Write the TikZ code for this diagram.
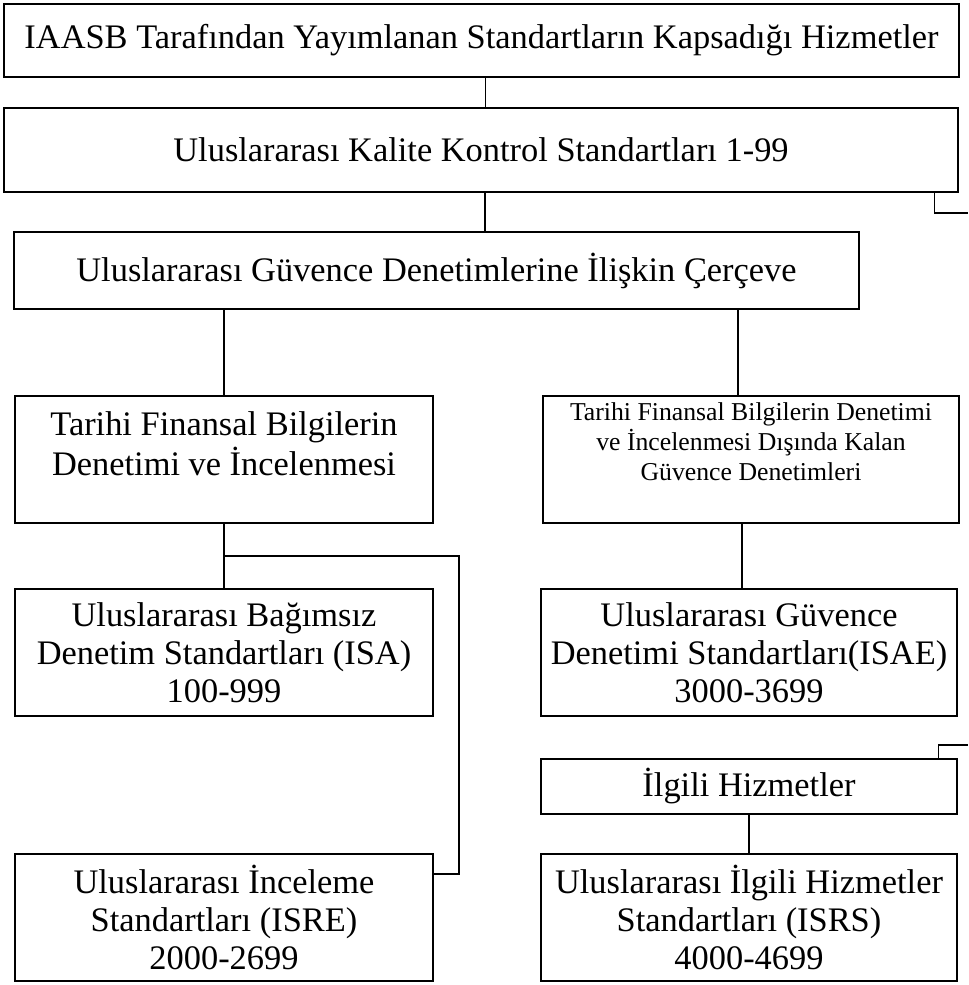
\documentclass[tikz,border=0pt]{standalone}
\usepackage{fontspec}
\setmainfont{Liberation Serif}
\usetikzlibrary{calc}

\tikzset{
  kutu/.style={draw,rectangle,line width=1.1pt,inner sep=2pt,align=center,
    font=\fontsize{25.8}{28.5}\selectfont},
  kucuk/.style={font=\fontsize{19.3}{22.5}\selectfont},
  hat/.style={line width=1.1pt}
}

\begin{document}
\begin{tikzpicture}[x=0.75pt,y=-0.75pt]
        \useasboundingbox (0,0) rectangle (968,985);

        \begin{scope}[every node/.style={kutu}]
          \node (ust)     at (481.5,40.5) [minimum width=716.25pt,minimum height=54.75pt] {IAASB Tarafından Yayımlanan Standartların Kapsadığı Hizmetler};
          \node (kalite)  at (481,150)    [minimum width=715.5pt,minimum height=63pt] {Uluslararası Kalite Kontrol Standartları 1-99};
          \node (cerceve) at (436.5,270.5) [minimum width=633.75pt,minimum height=57.75pt] {Uluslararası Güvence Denetimlerine İlişkin Çerçeve};
          \node (tarihi)  at (224,459.5)  [minimum width=313.5pt,minimum height=95.25pt,text depth=24pt,font=\fontsize{25.8}{30}\selectfont] {Tarihi Finansal Bilgilerin\\Denetimi ve İncelenmesi};
          \node (disinda) at (751,459.5)  [minimum width=312pt,minimum height=95.25pt,kucuk,text depth=27pt] {Tarihi Finansal Bilgilerin Denetimi\\ve İncelenmesi Dışında Kalan\\Güvence Denetimleri};
          \node (isa)     at (224,652.5)  [minimum width=313.5pt,minimum height=95.25pt] {Uluslararası Bağımsız\\Denetim Standartları (ISA)\\100-999};
          \node (isae)    at (749,652.5)  [minimum width=312pt,minimum height=95.25pt] {Uluslararası Güvence\\Denetimi Standartları(ISAE)\\3000-3699};
          \node (ilgili)  at (749,786.5)  [minimum width=312pt,minimum height=41.25pt] {İlgili Hizmetler};
          \node (isre)    at (224,917.5)  [minimum width=313.5pt,minimum height=95.25pt] {Uluslararası İnceleme\\Standartları (ISRE)\\2000-2699};
          \node (isrs)    at (749,917.5)  [minimum width=312pt,minimum height=95.25pt] {Uluslararası İlgili Hizmetler\\Standartları (ISRS)\\4000-4699};
        \end{scope}

        % serbest uclar
        \coordinate (dal)  at ($(tarihi.south)!0.5!(isa.north)$);
        \coordinate (sag)  at (459,874);
        \coordinate (kdis) at (968,213);
        \coordinate (idis) at (968,745);

        \begin{scope}[every path/.style={hat}]
          \draw ([xshift=3pt]ust.south) -- ([xshift=3pt]ust.south |- kalite.north);
          \draw ([xshift=3pt]kalite.south) -- ([xshift=3pt]kalite.south |- cerceve.north);
          \draw (tarihi.north |- cerceve.south) -- (tarihi.north);
          \draw ([xshift=-9.75pt]disinda.north |- cerceve.south) -- ([xshift=-9.75pt]disinda.north);
          \draw (tarihi.south) -- (isa.north);
          \draw (dal) -| (sag) -- (sag -| isre.east);
          \draw ([xshift=-6.75pt]disinda.south) -- ([xshift=-6.75pt]disinda.south |- isae.north);
          \draw (ilgili.south) -- (isrs.north);
          \draw ([xshift=-18pt]kalite.south east) |- (kdis);
          \draw ([xshift=-14.25pt]ilgili.north east) |- (idis);
        \end{scope}

      \end{tikzpicture}
\end{document}
